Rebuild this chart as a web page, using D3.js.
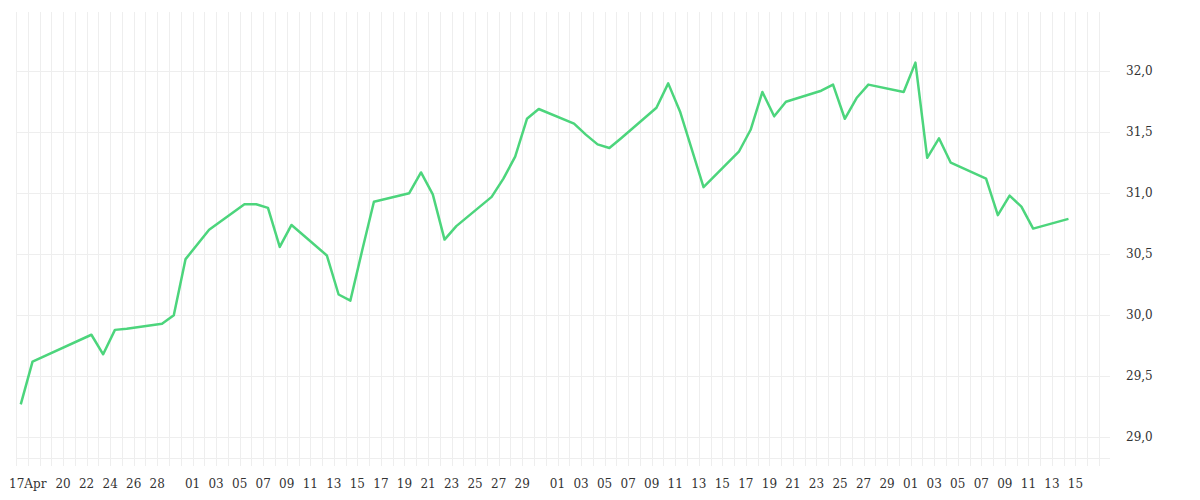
<!DOCTYPE html>
<html>
<head>
<meta charset="utf-8">
<script src="https://cdn.jsdelivr.net/npm/d3@7"></script>
<style>
  body { margin: 0; background: #fff; }
  text { font-family: "DejaVu Serif", serif; font-size: 12px; fill: #333; }
</style>
</head>
<body>
<svg id="chart" width="1200" height="500"></svg>
<script>
// trading days (European calendar) and closing values
const dates = [
  "2014-04-16", "2014-04-17", "2014-04-22", "2014-04-23", "2014-04-24", "2014-04-25",
  "2014-04-28", "2014-04-29", "2014-04-30", "2014-05-02", "2014-05-05", "2014-05-06",
  "2014-05-07", "2014-05-08", "2014-05-09", "2014-05-12", "2014-05-13", "2014-05-14",
  "2014-05-15", "2014-05-16", "2014-05-19", "2014-05-20", "2014-05-21", "2014-05-22",
  "2014-05-23", "2014-05-26", "2014-05-27", "2014-05-28", "2014-05-29", "2014-05-30",
  "2014-06-02", "2014-06-03", "2014-06-04", "2014-06-05", "2014-06-06", "2014-06-09",
  "2014-06-10", "2014-06-11", "2014-06-13", "2014-06-16", "2014-06-17", "2014-06-18",
  "2014-06-19", "2014-06-20", "2014-06-23", "2014-06-24", "2014-06-25", "2014-06-26",
  "2014-06-27", "2014-06-30", "2014-07-01", "2014-07-02", "2014-07-03", "2014-07-04",
  "2014-07-07", "2014-07-08", "2014-07-09", "2014-07-10", "2014-07-11", "2014-07-14"
];
const values = [
  29.27, 29.62, 29.84, 29.68, 29.88, 29.89,
  29.93, 30.00, 30.46, 30.70, 30.91, 30.91,
  30.88, 30.56, 30.74, 30.49, 30.17, 30.12,
  30.53, 30.93, 31.00, 31.17, 30.99, 30.62,
  30.73, 30.97, 31.12, 31.30, 31.61, 31.69,
  31.57, 31.48, 31.40, 31.37, 31.45, 31.70,
  31.90, 31.67, 31.05, 31.34, 31.52, 31.83,
  31.63, 31.75, 31.84, 31.89, 31.61, 31.78,
  31.89, 31.83, 32.07, 31.29, 31.45, 31.25,
  31.12, 30.82, 30.98, 30.89, 30.71, 30.79
];
const yTicks = [29.0, 29.5, 30.0, 30.5, 31.0, 31.5, 32.0];
const xTickDates = [
  "2014-04-17", "2014-04-20", "2014-04-22", "2014-04-24", "2014-04-26", "2014-04-28",
  "2014-05-01", "2014-05-03", "2014-05-05", "2014-05-07", "2014-05-09", "2014-05-11",
  "2014-05-13", "2014-05-15", "2014-05-17", "2014-05-19", "2014-05-21", "2014-05-23",
  "2014-05-25", "2014-05-27", "2014-05-29",
  "2014-06-01", "2014-06-03", "2014-06-05", "2014-06-07", "2014-06-09", "2014-06-11",
  "2014-06-13", "2014-06-15", "2014-06-17", "2014-06-19", "2014-06-21", "2014-06-23",
  "2014-06-25", "2014-06-27", "2014-06-29",
  "2014-07-01", "2014-07-03", "2014-07-05", "2014-07-07", "2014-07-09", "2014-07-11",
  "2014-07-13", "2014-07-15"
];

const parse = d3.timeParse("%Y-%m-%d");
const plotLeft = 16, plotRight = 1110, plotTop = 12, plotBottom = 458;

const x = d3.scaleTime()
  .domain([parse("2014-04-16"), parse("2014-07-18")])
  .range([plotLeft, plotLeft + 92 * 11.9]);
const y = d3.scaleLinear()
  .domain([28.83, 32.485])
  .range([plotBottom, plotTop]);

const svg = d3.select("#chart");

// vertical day grid
svg.append("g")
  .selectAll("line")
  .data(d3.timeDay.range(parse("2014-04-16"), parse("2014-07-18")))
  .join("line")
  .attr("x1", d => Math.round(x(d)) + 0.5).attr("x2", d => Math.round(x(d)) + 0.5)
  .attr("y1", plotTop).attr("y2", plotBottom + 8)
  .attr("stroke", "#eeeeee");

// horizontal grid
svg.append("g")
  .selectAll("line")
  .data(yTicks)
  .join("line")
  .attr("x1", plotLeft).attr("x2", plotRight)
  .attr("y1", d => Math.round(y(d)) + 0.5).attr("y2", d => Math.round(y(d)) + 0.5)
  .attr("stroke", "#eeeeee");
svg.append("line")
  .attr("x1", plotLeft).attr("x2", plotRight)
  .attr("y1", plotBottom + 0.5).attr("y2", plotBottom + 0.5)
  .attr("stroke", "#eeeeee");

// y labels on the right
svg.append("g")
  .selectAll("text")
  .data(yTicks)
  .join("text")
  .attr("x", 1126)
  .attr("y", d => y(d) + 4)
  .text(d => d3.format(".1f")(d).replace(".", ","));

// x labels
const fmt = d3.timeFormat("%d");
svg.append("g")
  .selectAll("text")
  .data(xTickDates.map(parse))
  .join("text")
  .attr("x", d => x(d))
  .attr("y", 488)
  .attr("text-anchor", "middle")
  .text((d, i) => i === 0 ? fmt(d) + "Apr" : fmt(d));

// line (points sit a little past the day boundary)
const offset = 0.4 * 11.9;
const line = d3.line()
  .x((d, i) => x(parse(dates[i])) + offset)
  .y(d => y(d));
svg.append("path")
  .datum(values)
  .attr("d", line)
  .attr("fill", "none")
  .attr("stroke", "#4cd57c")
  .attr("stroke-width", 2.5)
  .attr("stroke-linejoin", "round");
</script>
</body>
</html>
